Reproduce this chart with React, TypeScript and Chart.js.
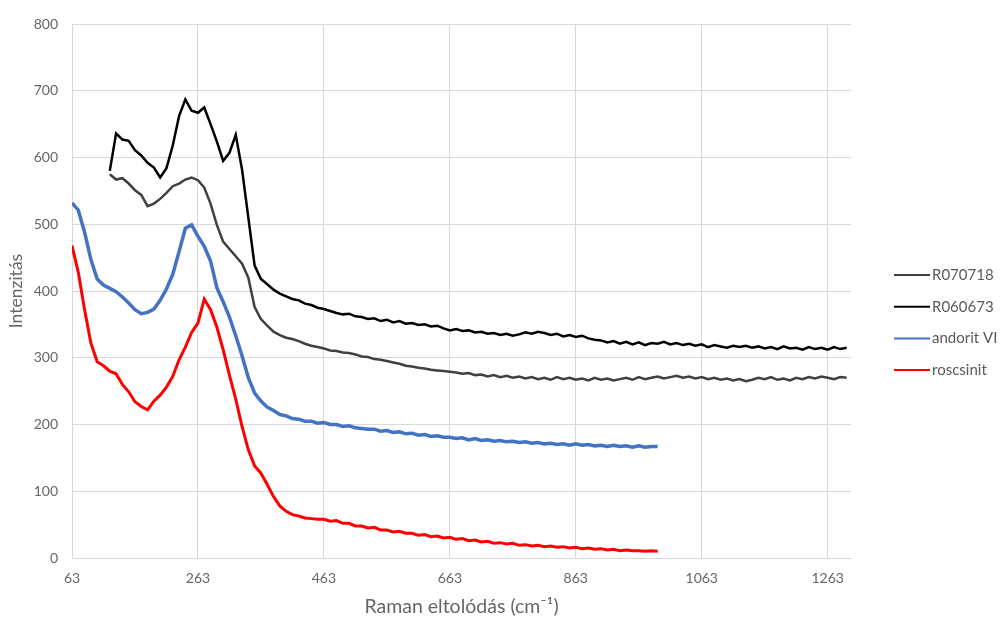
import React, { useEffect, useRef } from "react";
import { Chart, registerables } from "chart.js";

Chart.register(...registerables);

// Raman shift grid (cm-1)
const ramanShift = [
  63, 73, 83, 93, 103, 113, 123, 133, 143, 153,
  163, 173, 183, 193, 203, 213, 223, 233, 243, 253,
  263, 273, 283, 293, 303, 313, 323, 333, 343, 353,
  363, 373, 383, 393, 403, 413, 423, 433, 443, 453,
  463, 473, 483, 493, 503, 513, 523, 533, 543, 553,
  563, 573, 583, 593, 603, 613, 623, 633, 643, 653,
  663, 673, 683, 693, 703, 713, 723, 733, 743, 753,
  763, 773, 783, 793, 803, 813, 823, 833, 843, 853,
  863, 873, 883, 893, 903, 913, 923, 933, 943, 953,
  963, 973, 983, 993, 1003, 1013, 1023, 1033, 1043, 1053,
  1063, 1073, 1083, 1093, 1103, 1113, 1123, 1133, 1143, 1153,
  1163, 1173, 1183, 1193, 1203, 1213, 1223, 1233, 1243, 1253,
  1263, 1273, 1283, 1293,
];

const r070718 = [
  null, null, null, null, null, null,
  575, 567, 569, 561, 551, 544, 527, 531, 538, 547,
  557, 561, 567, 570, 566, 555, 531, 499, 474, 463,
  452, 441, 420, 376, 358, 348, 339, 334, 330, 328,
  325, 321, 318, 316, 314, 311, 310, 308, 307, 305,
  302, 301, 298, 297, 295, 293, 291, 288, 287, 285,
  284, 282, 281, 280, 279, 278, 276, 277, 274, 275,
  272, 274, 271, 273, 270, 272, 269, 271, 268, 270,
  267, 271, 268, 270, 267, 269, 266, 270, 267, 269,
  266, 268, 270, 267, 271, 268, 270, 272, 269, 271,
  273, 270, 272, 269, 271, 268, 270, 267, 269, 266,
  268, 265, 267, 270, 268, 271, 267, 269, 266, 270,
  268, 271, 269, 272, 270, 268, 271, 270,
];

const r060673 = [
  null, null, null, null, null, null,
  580, 636, 627, 625, 611, 603, 592, 585, 570, 584,
  618, 662, 687, 670, 667, 675, 650, 624, 595, 607,
  634, 582, 510, 438, 418, 410, 402, 396, 392, 388,
  386, 381, 379, 375, 373, 370, 367, 365, 366, 362,
  361, 358, 359, 355, 357, 353, 355, 351, 352, 349,
  350, 347, 348, 344, 341, 343, 340, 341, 338, 339,
  336, 337, 334, 336, 333, 335, 338, 336, 339, 337,
  334, 336, 332, 334, 331, 333, 329, 327, 326, 323,
  325, 321, 324, 320, 323, 319, 322, 321, 324, 320,
  322, 319, 321, 318, 320, 316, 319, 317, 315, 318,
  316, 318, 315, 317, 314, 316, 313, 317, 314, 315,
  312, 316, 313, 315, 312, 316, 313, 315,
];

const andoritVI = [
  532, 521, 488, 447, 418, 409, 404, 399, 391, 382,
  372, 366, 368, 373, 386, 403, 425, 459, 494, 499,
  482, 467, 445, 405, 384, 361, 333, 303, 270, 247,
  235, 226, 221, 215, 213, 209, 208, 205, 205, 202,
  203, 200, 200, 197, 198, 195, 194, 193, 193, 190,
  191, 188, 189, 186, 187, 184, 185, 182, 183, 181,
  181, 179, 180, 177, 179, 176, 177, 175, 176, 174,
  175, 173, 174, 172, 173, 171, 172, 170, 171, 169,
  171, 169, 170, 168, 169, 167, 169, 167, 168, 166,
  168, 166, 167, 167,
];

const roscsinit = [
  468, 428, 372, 322, 294, 288, 280, 276, 260, 249,
  234, 227, 222, 235, 244, 256, 272, 297, 316, 338,
  352, 388, 372, 346, 312, 274, 238, 197, 162, 138,
  127, 110, 92, 78, 70, 65, 63, 60, 59, 58,
  58, 55, 56, 52, 52, 48, 48, 45, 46, 42,
  42, 39, 40, 37, 37, 34, 35, 32, 33, 30,
  31, 28, 29, 26, 27, 24, 25, 22, 23, 21,
  22, 19, 20, 18, 19, 17, 18, 16, 17, 15,
  16, 14, 15, 13, 14, 12, 13, 11, 12, 11,
  11, 10, 11, 10,
];

const xTickValues = [63, 263, 463, 663, 863, 1063, 1263];
const seriesNames = ["R070718", "R060673", "andorit VI", "roscsinit"];
const seriesValues = [r070718, r060673, andoritVI, roscsinit];
const seriesColors = ["#404040", "#000000", "#4472C4", "#FF0000"];
const seriesWidths = [2.5, 2.5, 3.5, 3];

const toPoints = (vals: (number | null)[]) =>
  vals
    .map((v, i) => (v == null ? null : { x: ramanShift[i], y: v }))
    .filter((p) => p !== null) as { x: number; y: number }[];

const FONT = "Lato, 'Open Sans', sans-serif";

const sideLegend = {
  id: "sideLegend",
  afterDraw(chart: any) {
    const { ctx, chartArea } = chart;
    ctx.save();
    ctx.font = `15px ${FONT}`;
    ctx.textBaseline = "middle";
    ctx.textAlign = "left";
    const x0 = chartArea.right + 43;
    seriesNames.forEach((name, i) => {
      const y = 275 + i * 31.7;
      ctx.strokeStyle = seriesColors[i];
      ctx.lineWidth = 2;
      ctx.beginPath();
      ctx.moveTo(x0, y);
      ctx.lineTo(x0 + 36, y);
      ctx.stroke();
      ctx.fillStyle = "#595959";
      ctx.fillText(name, x0 + 38, y);
    });
    ctx.restore();
  },
};

export default function App() {
  const ref = useRef<HTMLCanvasElement>(null);
  useEffect(() => {
    document.body.style.margin = "0";
    const canvas = ref.current!;
    const chart = new Chart(canvas, {
      type: "line",
      data: {
        datasets: seriesNames.map((name, i) => ({
          label: name,
          data: toPoints(seriesValues[i]),
          borderColor: seriesColors[i],
          backgroundColor: seriesColors[i],
          borderWidth: seriesWidths[i],
          pointRadius: 0,
          tension: 0,
        })),
      },
      options: {
        animation: false,
        responsive: false,
        maintainAspectRatio: false,
        layout: { padding: { top: 24, right: 154, left: 0, bottom: 0 } },
        plugins: {
          legend: { display: false },
          tooltip: { enabled: false },
        },
        scales: {
          x: {
            type: "linear",
            min: 63,
            max: 1300,
            afterBuildTicks: (scale: any) => {
              scale.ticks = xTickValues.map((v) => ({ value: v }));
            },
            afterFit: (scale: any) => {
              scale.height = 61;
            },
            grid: { color: "#d9d9d9", drawTicks: false },
            border: { color: "#d9d9d9" },
            ticks: {
              color: "#666666",
              font: { family: FONT, size: 14 },
              padding: 12,
              maxRotation: 0,
              autoSkip: false,
              callback: (v: any) => String(v),
            },
            title: {
              display: true,
              text: "Raman eltolódás (cm⁻¹)",
              color: "#666666",
              font: { family: FONT, size: 19.5 },
              padding: { top: 0, bottom: 1 },
            },
          },
          y: {
            type: "linear",
            min: 0,
            max: 800,
            afterFit: (scale: any) => {
              scale.width = 72;
            },
            grid: { color: "#d9d9d9", drawTicks: false },
            border: { color: "#d9d9d9" },
            ticks: {
              stepSize: 100,
              color: "#666666",
              font: { family: FONT, size: 14 },
              padding: 14,
            },
            title: {
              display: true,
              text: "Intenzitás",
              color: "#666666",
              font: { family: FONT, size: 17.5 },
              padding: { top: 6, bottom: 0 },
            },
          },
        },
      },
      plugins: [sideLegend],
    });
    return () => chart.destroy();
  }, []);
  return (
    <div style={{ position: "absolute", left: 0, top: 0, width: 1005, height: 619, background: "#fff" }}>
      <canvas ref={ref} width={1005} height={619} style={{ width: 1005, height: 619 }} />
    </div>
  );
}
